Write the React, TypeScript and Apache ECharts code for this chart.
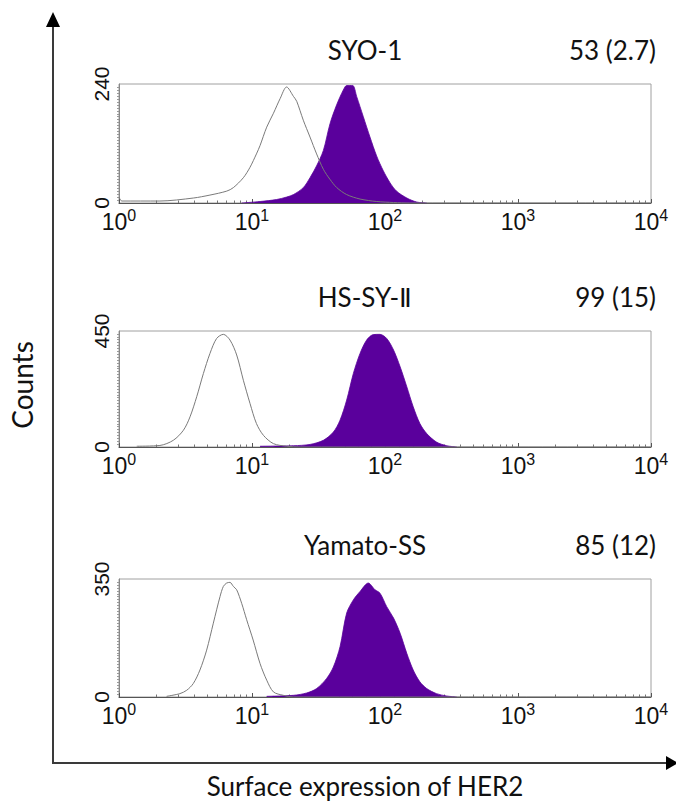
import React, { useEffect, useRef } from "react";
import * as echarts from "echarts";

// Panel titles and MFI labels
const cellLines = ["SYO-1", "HS-SY-Ⅱ", "Yamato-SS"];
const mfiLabels = ["53 (2.7)", "99 (15)", "85 (12)"];
const yMax = [240, 450, 350];
const xTickExponents = [0, 1, 2, 3, 4];

// [fluorescence intensity, count]
const syo1Control: [number, number][] = [
  [1.0, 12], [1.05, 4], [2.03, 4], [3.62, 10], [4.83, 16], [6.46, 24], [7.24, 31],
  [8.61, 51], [9.66, 72], [10.8, 99], [11.5, 116], [12.9, 153], [14.5, 181],
  [16.3, 211], [18.2, 234], [20.5, 215], [21.7, 205], [24.3, 167], [27.3, 133],
  [30.6, 99], [34.4, 68], [38.5, 48], [43.4, 31], [51.5, 17], [64.9, 8],
  [86.7, 3], [116, 1], [154, 0], [10000, 0],
];
const syo1Her2: [number, number][] = [
  [8.36, 0], [11.5, 3], [15.3, 7], [18.2, 12], [20.5, 17], [24.3, 31], [27.3, 51],
  [30.6, 75], [34.4, 106], [38.6, 160], [43.3, 198], [48.6, 228], [51.5, 237],
  [57.1, 237], [61.2, 215], [68.7, 174], [77.1, 133], [86.5, 95], [97.1, 65],
  [109, 41], [122, 24], [146, 10], [173, 2], [206, 0],
];
const hssyControl: [number, number][] = [
  [1.36, 3], [2.03, 6], [2.56, 26], [3.05, 65], [3.42, 117], [3.84, 195],
  [4.31, 285], [4.83, 363], [5.42, 421], [6.09, 437], [6.83, 415], [7.67, 357],
  [8.61, 259], [9.66, 169], [10.8, 91], [12.2, 45], [14.5, 13], [18.2, 3],
  [23.0, 0], [10000, 0],
];
const hssyHer2: [number, number][] = [
  [11.5, 3], [20.5, 5], [27.3, 10], [34.4, 26], [40.9, 58], [45.9, 104],
  [51.5, 182], [57.8, 285], [64.9, 363], [72.8, 415], [81.7, 436], [91.7, 437],
  [103, 421], [116, 376], [130, 311], [146, 233], [163, 156], [183, 91],
  [206, 52], [244, 19], [291, 5], [346, 0],
];
const yamatoControl: [number, number][] = [
  [2.28, 2], [2.87, 10], [3.23, 20], [3.62, 40], [4.06, 80], [4.56, 139],
  [5.12, 219], [5.75, 298], [6.09, 328], [6.45, 338], [6.83, 340], [7.24, 328],
  [7.67, 318], [8.36, 278], [9.12, 229], [10.2, 169], [11.5, 99], [12.9, 50],
  [14.5, 15], [17.2, 5], [20.5, 0], [10000, 0],
];
const yamatoHer2: [number, number][] = [
  [12.9, 2], [20.5, 5], [25.8, 12], [30.6, 25], [36.4, 55], [40.9, 89],
  [45.9, 149], [51.5, 249], [57.8, 288], [64.9, 313], [74.9, 338], [84.1, 318],
  [91.7, 308], [103, 268], [116, 234], [130, 189], [146, 129], [163, 80],
  [183, 45], [206, 25], [244, 10], [291, 3], [346, 0],
];

const controls = [syo1Control, hssyControl, yamatoControl];
const her2s = [syo1Her2, hssyHer2, yamatoHer2];

const PANEL_TOPS = [84, 331, 579];
const PANEL_HEIGHTS = [119, 116, 118];
const PANEL_LEFT = 119;
const PANEL_WIDTH = 532;
const PURPLE = "#5a009c";
const TITLE_FONT = "Lato, 'Open Sans', sans-serif";
const AXIS_FONT = "'Liberation Sans', Arial, sans-serif";

export default function App() {
  const ref = useRef<HTMLDivElement>(null);

  useEffect(() => {
    document.body.style.margin = "0";
    if (!ref.current) return;
    const chart = echarts.init(ref.current, undefined, { renderer: "svg" });

    const grids = PANEL_TOPS.map((top, i) => ({
      left: PANEL_LEFT,
      top,
      width: PANEL_WIDTH,
      height: PANEL_HEIGHTS[i],
      show: true,
      borderColor: "#a0a0a0",
      borderWidth: 1,
      backgroundColor: "transparent",
    }));

    const xAxes = PANEL_TOPS.map((_, i) => ({
      type: "log",
      logBase: 10,
      gridIndex: i,
      min: 1,
      max: 10000,
      axisLine: { show: true, lineStyle: { color: "#555", width: 1 } },
      axisTick: { show: true, inside: true, length: 4, lineStyle: { color: "#555" } },
      minorTick: { show: true, splitNumber: 10, length: 2.5, lineStyle: { color: "#777" } },
      splitLine: { show: false },
      axisLabel: {
        margin: 4,
        formatter: (v: number) => {
          const e = Math.round(Math.log10(v));
          return xTickExponents.includes(e) ? `{a|10}{s|${e}}` : "";
        },
        rich: {
          a: { fontSize: 23, lineHeight: 23, padding: [6, 0, 0, 0], color: "#111", fontFamily: AXIS_FONT },
          s: { fontSize: 16, lineHeight: 16, verticalAlign: "top", color: "#111", fontFamily: AXIS_FONT },
        },
      },
    }));

    const yAxes = PANEL_TOPS.map((_, i) => ({
      type: "value",
      gridIndex: i,
      min: 0,
      max: yMax[i],
      interval: yMax[i],
      axisLine: { show: true, lineStyle: { color: "#888", width: 1 } },
      axisTick: { show: false },
      minorTick: { show: true, splitNumber: 40, length: 2, lineStyle: { color: "#999" } },
      splitLine: { show: false },
      axisLabel: { show: false },
    }));

    const series: any[] = [];
    PANEL_TOPS.forEach((_, i) => {
      series.push({
        type: "line",
        xAxisIndex: i,
        yAxisIndex: i,
        data: her2s[i],
        showSymbol: false,
        smooth: 0.3,
        lineStyle: { color: PURPLE, width: 0.8 },
        areaStyle: { color: PURPLE, opacity: 1 },
        z: 2,
      });
      series.push({
        type: "line",
        xAxisIndex: i,
        yAxisIndex: i,
        data: controls[i],
        showSymbol: false,
        smooth: 0.3,
        lineStyle: { color: "#7a7a7a", width: 1 },
        z: 3,
      });
    });

    chart.setOption({
      animation: false,
      backgroundColor: "#fff",
      grid: grids,
      xAxis: xAxes,
      yAxis: yAxes,
      series,
    });

    const graphic: any[] = [];
    PANEL_TOPS.forEach((top, i) => {
      // rotated y tick labels, positioned with the axis scale
      [0, yMax[i]].forEach((v) => {
        const py = chart.convertToPixel({ yAxisIndex: i }, v) as number;
        graphic.push({
          type: "text",
          x: 101,
          y: py,
          rotation: Math.PI / 2,
          style: {
            text: String(v),
            font: `21px ${AXIS_FONT}`,
            fill: "#111",
            textAlign: "center",
            textVerticalAlign: "middle",
          },
        });
      });
      graphic.push({
        type: "text",
        x: 365,
        y: top - 34,
        style: {
          text: cellLines[i],
          font: `26px ${TITLE_FONT}`,
          fill: "#111",
          textAlign: "center",
          textVerticalAlign: "middle",
        },
      });
      graphic.push({
        type: "text",
        x: 656,
        y: top - 34,
        style: {
          text: mfiLabels[i],
          font: `26px ${TITLE_FONT}`,
          fill: "#111",
          textAlign: "right",
          textVerticalAlign: "middle",
        },
      });
    });
    graphic.push(
      {
        type: "line",
        shape: { x1: 53, y1: 24, x2: 53, y2: 763 },
        style: { stroke: "#3a3a3a", lineWidth: 2 },
      },
      {
        type: "polygon",
        shape: { points: [[53, 12], [46, 27], [60, 27]] },
        style: { fill: "#000" },
      },
      {
        type: "line",
        shape: { x1: 52, y1: 763, x2: 668, y2: 763 },
        style: { stroke: "#3a3a3a", lineWidth: 2 },
      },
      {
        type: "polygon",
        shape: { points: [[678, 763], [666, 756], [666, 770]] },
        style: { fill: "#000" },
      },
      {
        type: "text",
        x: 22,
        y: 385,
        rotation: Math.PI / 2,
        style: {
          text: "Counts",
          font: `28px ${TITLE_FONT}`,
          fill: "#111",
          textAlign: "center",
          textVerticalAlign: "middle",
        },
      },
      {
        type: "text",
        x: 365,
        y: 786,
        style: {
          text: "Surface expression of HER2",
          font: `26px ${TITLE_FONT}`,
          fill: "#111",
          textAlign: "center",
          textVerticalAlign: "middle",
        },
      }
    );

    chart.setOption({ graphic });

    return () => chart.dispose();
  }, []);

  return <div ref={ref} style={{ width: 676, height: 810 }} />;
}
